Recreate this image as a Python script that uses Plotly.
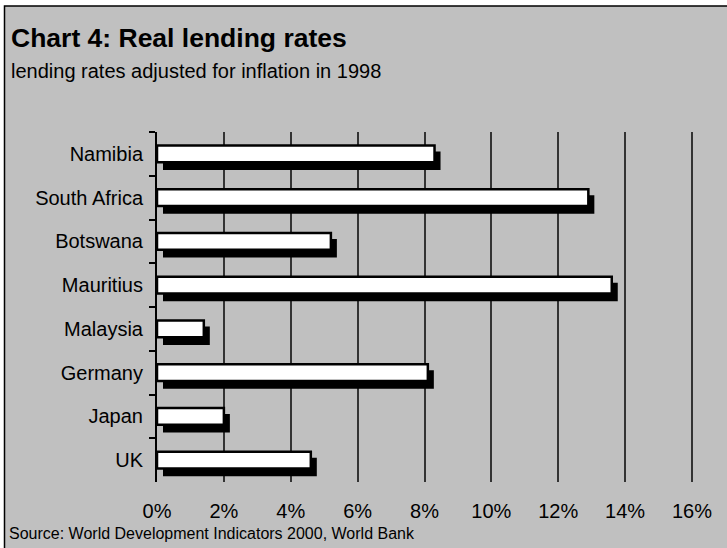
import plotly.graph_objects as go

categories = ["Namibia", "South Africa", "Botswana", "Mauritius", "Malaysia", "Germany", "Japan", "UK"]
rates = [8.3, 12.9, 5.2, 13.6, 1.4, 8.1, 2.0, 4.6]
x_tickvals = [0, 2, 4, 6, 8, 10, 12, 14, 16]
x_ticktext = ["0%", "2%", "4%", "6%", "8%", "10%", "12%", "14%", "16%"]

FONT = "Liberation Sans, Arial, sans-serif"
W, H = 727, 548
L, R, T, B = 157, 33, 132, 66
pw, ph = W - L - R, H - T - B
X_MAX = 16.0 * pw / 535.0

def px_x(p):
    return (p - L) / pw

def px_y(p):
    return (H - B - p) / ph

x_per_px = X_MAX / pw
cat_per_px = 1.0 / (ph / len(categories))

fig = go.Figure()
# shadow bars
fig.add_trace(go.Bar(
    y=categories, x=rates, orientation="h",
    base=[6 * x_per_px] * len(rates),
    width=0.42, offset=-0.19 + 6 * cat_per_px,
    marker=dict(color="black", line=dict(width=0)),
    hoverinfo="skip", showlegend=False,
))
# white bars
fig.add_trace(go.Bar(
    y=categories, x=rates, orientation="h",
    width=0.38, offset=-0.19,
    marker=dict(color="white", line=dict(color="black", width=2.5)),
    showlegend=False,
))

fig.update_layout(
    width=W, height=H,
    margin=dict(l=L, r=R, t=T, b=B, pad=0),
    paper_bgcolor="white",
    plot_bgcolor="rgba(0,0,0,0)",
    barmode="overlay",
    font=dict(family=FONT, color="black", size=20),
    xaxis=dict(
        range=[0, X_MAX], tickvals=x_tickvals, ticktext=x_ticktext,
        showgrid=True, gridcolor="#333333", gridwidth=1.5,
        zeroline=False, showline=False, ticks="",
        ticklabelstandoff=15,
        tickfont=dict(size=20, family=FONT, color="black"),
        fixedrange=True,
    ),
    yaxis=dict(
        type="category", categoryorder="array", categoryarray=categories,
        autorange="reversed", tickson="boundaries",
        ticks="outside", ticklen=6, tickwidth=1.5, tickcolor="black",
        showline=True, linecolor="black", linewidth=2,
        showgrid=False, zeroline=False,
        ticklabelstandoff=8,
        tickfont=dict(size=20, family=FONT, color="black"),
        fixedrange=True,
    ),
    shapes=[dict(
        type="rect", xref="paper", yref="paper", layer="below",
        x0=px_x(4.5), x1=px_x(W + 10), y0=px_y(H + 10), y1=px_y(6),
        fillcolor="#C0C0C0", line=dict(color="black", width=1.5),
    )],
    annotations=[
        dict(text="<b>Chart 4: Real lending rates</b>", xref="paper", yref="paper",
             x=px_x(9), y=px_y(38), xanchor="left", yanchor="middle", showarrow=False,
             font=dict(size=26.5, family=FONT, color="black")),
        dict(text="lending rates adjusted for inflation in 1998", xref="paper", yref="paper",
             x=px_x(9), y=px_y(71), xanchor="left", yanchor="middle", showarrow=False,
             font=dict(size=20, family=FONT, color="black")),
        dict(text="Source: World Development Indicators 2000, World Bank", xref="paper", yref="paper",
             x=px_x(7), y=px_y(533), xanchor="left", yanchor="middle", showarrow=False,
             font=dict(size=16, family=FONT, color="black")),
    ],
)

fig.write_html("out.html")
